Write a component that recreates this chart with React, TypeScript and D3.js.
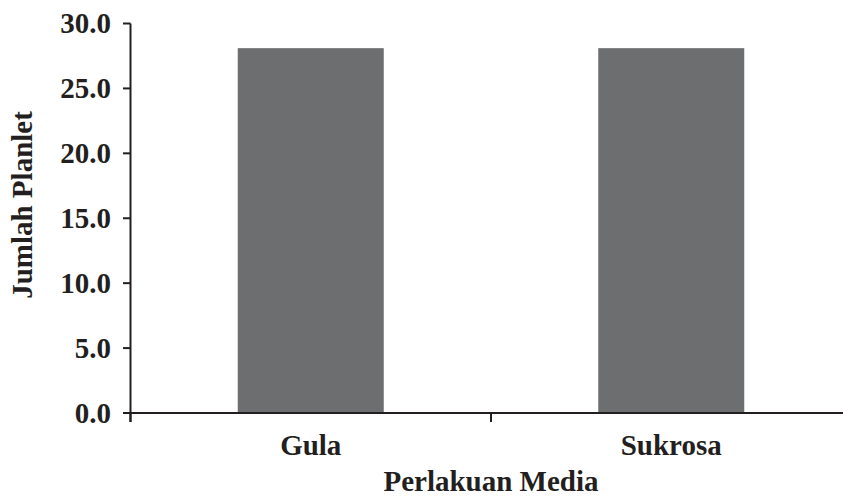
import React from "react";
import * as d3 from "d3";

const categories = ["Gula", "Sukrosa"];
const values = [28.1, 28.1];
const yTicks = [0, 5, 10, 15, 20, 25, 30];

const W = 843;
const H = 497;
const FONT = '"Liberation Serif", "Times New Roman", serif';

export default function App() {
  const x = d3
    .scaleBand<string>()
    .domain(categories)
    .range([130.5, 851.5])
    .paddingInner(0.595)
    .paddingOuter(0.2975);
  const y = d3.scaleLinear().domain([0, 30]).range([413, 23.5]);
  const step = x.step();
  const boundaries = d3.range(categories.length + 1).map((i) => 130.5 + i * step);
  const axisColor = "#231f20";
  const fs = 29;

  return (
    <svg
      width={W}
      height={H}
      style={{ position: "absolute", left: 0, top: 0, background: "#fff" }}
      fontFamily={FONT}
      fontWeight="bold"
    >
      {categories.map((c, i) => (
        <rect
          key={c}
          x={x(c)}
          y={y(values[i])}
          width={x.bandwidth()}
          height={y(0) - y(values[i])}
          fill="#6d6e70"
        />
      ))}
      {/* y axis */}
      <line x1={130.5} x2={130.5} y1={y(30)} y2={y(0) + 9} stroke={axisColor} strokeWidth={2} />
      {yTicks.map((t) => (
        <g key={t}>
          <line x1={123} x2={130.5} y1={y(t)} y2={y(t)} stroke={axisColor} strokeWidth={2} />
          <text x={111} y={y(t)} dy="0.34em" textAnchor="end" fontSize={fs} fill="#231f20">
            {t.toFixed(1)}
          </text>
        </g>
      ))}
      {/* x axis */}
      <line x1={130.5} x2={851.5} y1={y(0)} y2={y(0)} stroke={axisColor} strokeWidth={2} />
      {boundaries.map((b, i) => (
        <line key={i} x1={b} x2={b} y1={y(0)} y2={y(0) + 9} stroke={axisColor} strokeWidth={2} />
      ))}
      {categories.map((c) => (
        <text
          key={c}
          x={(x(c) ?? 0) + x.bandwidth() / 2}
          y={455}
          textAnchor="middle"
          fontSize={fs}
          fill="#231f20"
        >
          {c}
        </text>
      ))}
      <text x={491} y={491} textAnchor="middle" fontSize={fs} fill="#231f20">
        Perlakuan Media
      </text>
      <text
        transform={`translate(32, 205) rotate(-90)`}
        textAnchor="middle"
        fontSize={fs}
        fill="#231f20"
      >
        Jumlah Planlet
      </text>
    </svg>
  );
}
